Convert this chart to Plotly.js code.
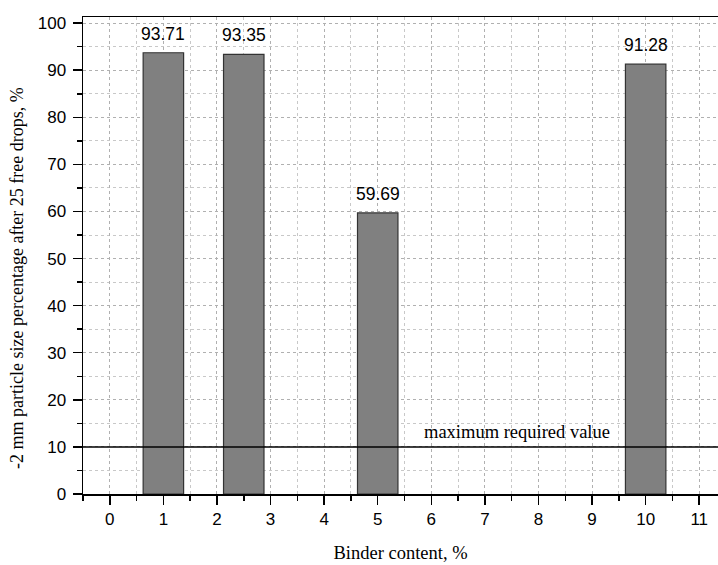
<!DOCTYPE html>
<html><head><meta charset="utf-8">
<script src="https://cdn.plot.ly/plotly-3.0.1.min.js"></script>
<style>body{margin:0;background:#fff}</style>
</head><body>
<div id="chart" style="width:718px;height:565px"></div>
<script>
const binderContent = [1, 2.5, 5, 10];
const passingPercent = [93.71, 93.35, 59.69, 91.28];
const barLabels = ['93.71', '93.35', '59.69', '91.28'];
const requiredValue = 10;
const requiredLabel = 'maximum required value';
const xTickVals = [0,1,2,3,4,5,6,7,8,9,10,11];
const yTickVals = [0,10,20,30,40,50,60,70,80,90,100];
const xTitle = 'Binder content, %';
const yTitle = '-2 mm particle size percentage after 25 free drops, %';

const sans = 'Liberation Sans, Arial, sans-serif';
const serif = 'Liberation Serif, Times New Roman, serif';

const bars = {
  type: 'bar', x: binderContent, y: passingPercent,
  width: 0.755,
  marker: {color: '#808080', line: {color: '#333333', width: 1.2}},
  hoverinfo: 'skip'
};

const labelAnns = binderContent.map((x, i) => ({
  x: x, y: passingPercent[i], xref: 'x', yref: 'y', yanchor: 'bottom', yshift: 7,
  text: barLabels[i], showarrow: false,
  font: {family: sans, size: 17.5, color: '#000'}
}));

const layout = {
  width: 718, height: 565,
  margin: {l: 83, r: 0, t: 17, b: 71},
  paper_bgcolor: '#fff', plot_bgcolor: '#fff',
  showlegend: false,
  xaxis: {
    range: [-0.5, 11.35],
    tickvals: xTickVals, ticktext: xTickVals.map(String),
    ticks: 'outside', ticklen: 9, tickwidth: 1.5, tickcolor: '#000',
    showline: true, linecolor: '#000', linewidth: 1.5, mirror: true,
    showgrid: true, gridcolor: '#b0b0b0', griddash: 'dot', gridwidth: 1,
    zeroline: false,
    minor: {dtick: 0.5, tick0: 0, ticks: 'outside', ticklen: 5, tickwidth: 1.5, tickcolor: '#000',
            showgrid: true, gridcolor: '#c8c8c8', griddash: 'dot', gridwidth: 1},
    tickfont: {family: sans, size: 17, color: '#000'},
    title: {text: xTitle, standoff: 18,
            font: {family: serif, size: 18.5, color: '#000'}}
  },
  yaxis: {
    range: [0, 101.3],
    tickvals: yTickVals,
    ticks: 'outside', ticklen: 9, tickwidth: 1.5, tickcolor: '#000',
    showline: true, linecolor: '#000', linewidth: 1.5, mirror: true,
    showgrid: true, gridcolor: '#b0b0b0', griddash: 'dot', gridwidth: 1,
    zeroline: false, ticklabelstandoff: 3,
    minor: {dtick: 5, tick0: 0, ticks: 'outside', ticklen: 5, tickwidth: 1.5, tickcolor: '#000',
            showgrid: true, gridcolor: '#c8c8c8', griddash: 'dot', gridwidth: 1},
    tickfont: {family: sans, size: 17, color: '#000'}
  },
  shapes: [{type: 'line', xref: 'paper', x0: 0, x1: 1, yref: 'y', y0: requiredValue, y1: requiredValue,
            line: {color: '#000', width: 1.5}, layer: 'above'}],
  annotations: labelAnns.concat([
    {x: 7.6, y: requiredValue, xref: 'x', yref: 'y', yanchor: 'bottom', yshift: 3,
     text: requiredLabel, showarrow: false,
     font: {family: serif, size: 18.5, color: '#000'}},
    {x: 17, y: 278, xref: 'paper', yref: 'paper', xanchor: 'center', yanchor: 'middle',
     text: yTitle, textangle: -90, showarrow: false,
     font: {family: serif, size: 18, color: '#000'}}
  ])
};
// convert pixel placement of the y title into paper coordinates
const plotW = 718 - 83, plotH = 565 - 17 - 71;
const yt = layout.annotations[layout.annotations.length - 1];
yt.x = (yt.x - 83) / plotW;
yt.y = (565 - 71 - yt.y) / plotH;

Plotly.newPlot('chart', [bars], layout, {displayModeBar: false, staticPlot: true});
</script>
</body></html>
